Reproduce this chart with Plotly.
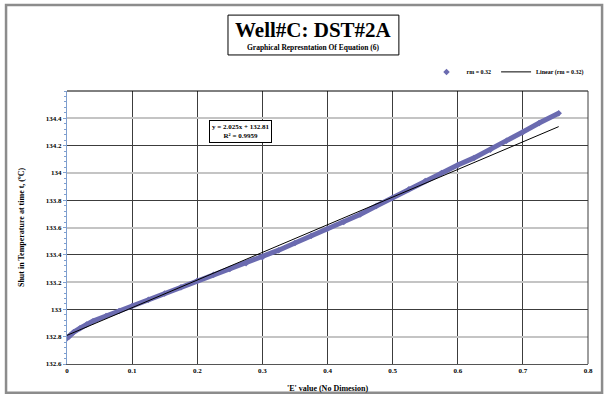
import plotly.graph_objects as go

# Data
e_values = [0.000, 0.005, 0.010, 0.020, 0.030, 0.040, 0.060, 0.080, 0.100, 0.125,
            0.150, 0.175, 0.200, 0.225, 0.250, 0.275, 0.300, 0.325, 0.350, 0.375,
            0.400, 0.425, 0.450, 0.475, 0.500, 0.525, 0.550, 0.575, 0.600, 0.625,
            0.650, 0.675, 0.700, 0.725, 0.755]
temps = [132.788, 132.812, 132.832, 132.862, 132.890, 132.914, 132.952, 132.988, 133.025, 133.070,
         133.117, 133.163, 133.210, 133.253, 133.296, 133.339, 133.382, 133.434, 133.487, 133.540,
         133.590, 133.640, 133.695, 133.757, 133.818, 133.880, 133.940, 134.000, 134.058, 134.110,
         134.170, 134.235, 134.300, 134.365, 134.437]
slope = 2.025
intercept = 132.81
series_name = "rm = 0.32"
trend_name = "Linear (rm = 0.32)"
x_ticks = [0, 0.1, 0.2, 0.3, 0.4, 0.5, 0.6, 0.7, 0.8]
y_ticks = [132.6, 132.8, 133, 133.2, 133.4, 133.6, 133.8, 134, 134.2, 134.4]
y_tick_text = ["132.6", "132.8", "133", "133.2", "133.4", "133.6", "133.8", "134", "134.2", "134.4"]

FONT = "Liberation Serif"
PURPLE = "#6b6bb0"

trend_x = [min(e_values), max(e_values)]
trend_y = [slope * v + intercept for v in trend_x]

fig = go.Figure()
fig.add_trace(go.Scatter(x=[None], y=[None], yaxis="y2", showlegend=False, hoverinfo="skip"))
fig.add_trace(go.Scatter(x=e_values, y=temps, mode="lines+markers",
                         line=dict(color=PURPLE, width=5),
                         marker=dict(symbol="diamond", size=5, color=PURPLE),
                         showlegend=False))
fig.add_trace(go.Scatter(x=[None], y=[None], mode="markers", name=series_name,
                         marker=dict(symbol="diamond", size=5, color=PURPLE)))
fig.add_trace(go.Scatter(x=trend_x, y=trend_y, mode="lines", name=trend_name,
                         line=dict(color="black", width=1)))

fig.update_layout(
    template="none",
    width=605, height=397,
    margin=dict(l=67, r=17, t=91, b=33, autoexpand=False),
    paper_bgcolor="white", plot_bgcolor="white",
    font=dict(family=FONT, color="black", size=7, weight="bold"),
    showlegend=True,
    legend=dict(orientation="h", x=0.69, y=1.07, xanchor="left", yanchor="middle",
                font=dict(family=FONT, size=6, color="black", weight="bold"),
                bgcolor="rgba(0,0,0,0)", tracegroupgap=0),
    xaxis=dict(range=[0, 0.8], tickvals=x_ticks, ticktext=[str(v) for v in x_ticks],
               showgrid=True, gridcolor="#3c3c3c", gridwidth=1,
               showline=True, linecolor="#555555", linewidth=1, mirror=False,
               ticks="", zeroline=False,
               tickfont=dict(family=FONT, size=7, color="black", weight="bold"),
               title=dict(text="'E' value (No Dimesion)", standoff=10,
                          font=dict(family=FONT, size=8, color="black", weight="bold"))),
    yaxis=dict(range=[132.6, 134.6], tickvals=y_ticks, ticktext=y_tick_text,
               showgrid=True, gridcolor="#3c3c3c", gridwidth=1,
               showline=True, linecolor="#7f9fcf", linewidth=1,
               ticks="outside", ticklen=3, tickcolor="#7f9fcf",
               minor=dict(dtick=0.04, tick0=132.6, ticks="outside", ticklen=2,
                          tickcolor="#7f9fcf", showgrid=False),
               zeroline=False,
               tickfont=dict(family=FONT, size=7, color="black", weight="bold"),
               title=dict(text="Shut in Temperature at time t, (ºC)", standoff=20,
                          font=dict(family=FONT, size=8, color="black", weight="bold"))),
    yaxis2=dict(range=[132.6, 134.6], overlaying="y", side="left",
                tick0=132.8, dtick=0.4, showgrid=True, gridcolor="#c4c4c4", gridwidth=1.5,
                showticklabels=False, ticks="", showline=False, zeroline=False),
)

# top and right border of plot area
fig.add_shape(type="line", xref="paper", yref="paper", x0=0, x1=1, y0=1, y1=1,
              line=dict(color="black", width=1))
fig.add_shape(type="line", xref="paper", yref="paper", x0=1, x1=1, y0=0, y1=1,
              line=dict(color="#3c3c3c", width=1))
# outer chart border
fig.add_shape(type="rect", xref="paper", yref="paper", x0=-0.117, x1=1.027, y0=-0.105, y1=1.315,
              line=dict(color="#8c8c8c", width=2.5))
# title box
fig.add_shape(type="rect", xref="paper", yref="paper", x0=0.309, x1=0.637, y0=1.132, y1=1.278,
              line=dict(color="black", width=1))
fig.add_annotation(text="Well#C: DST#2A", xref="paper", yref="paper", x=0.473, y=1.223,
                   xanchor="center", yanchor="middle", showarrow=False,
                   font=dict(family=FONT, size=21, color="black", weight="bold"))
fig.add_annotation(text="Graphical Represntation Of Equation (6)", xref="paper", yref="paper",
                   x=0.473, y=1.16, xanchor="center", yanchor="middle", showarrow=False,
                   font=dict(family=FONT, size=7.5, color="black", weight="bold"))
# trendline equation box
fig.add_annotation(text="y = 2.025x + 132.81<br>R² = 0.9959", xref="x", yref="y",
                   x=0.267, y=134.305, xanchor="center", yanchor="middle",
                   showarrow=False, align="center",
                   bordercolor="black", borderwidth=1, borderpad=2, bgcolor="white",
                   font=dict(family=FONT, size=7, color="black", weight="bold"))

fig.write_html("out.html", config={"displayModeBar": False},
               post_script="document.body.style.margin='0px';document.body.style.padding='0px';")
